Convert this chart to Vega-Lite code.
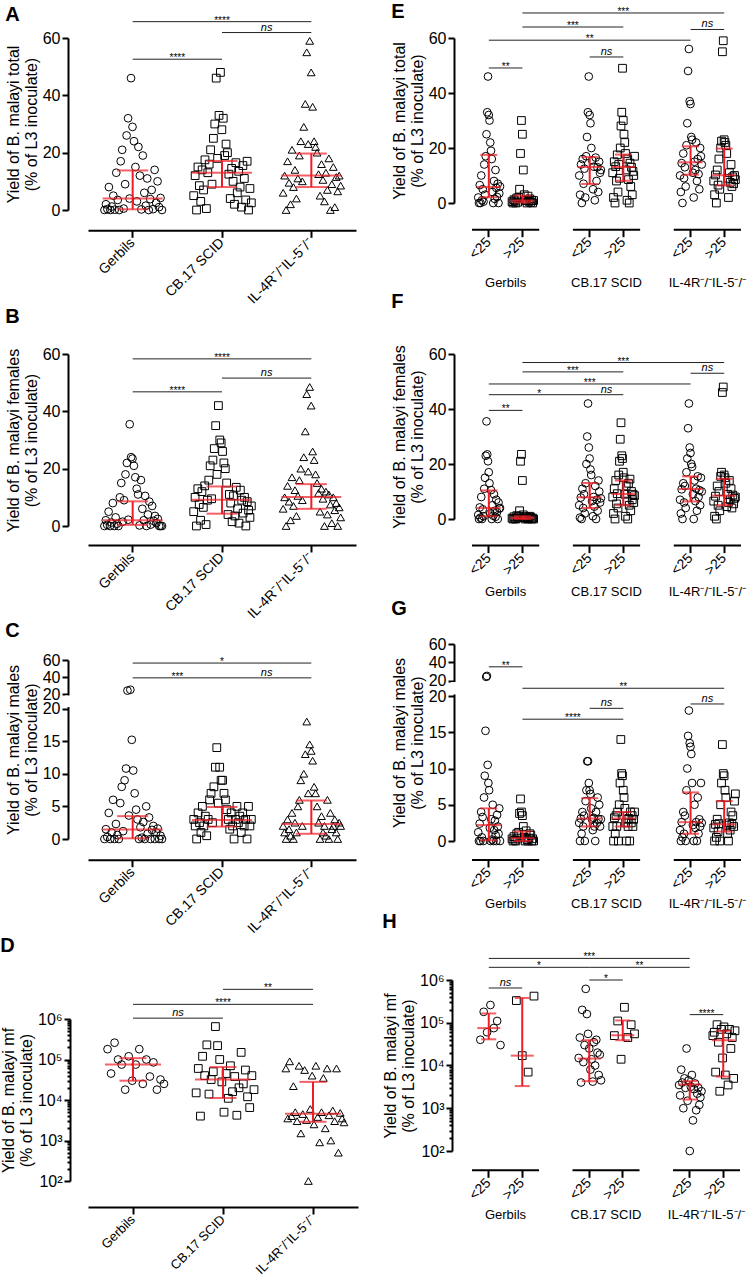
{
"$schema":"https://vega.github.io/schema/vega-lite/v6.json",
"padding":{"left":0,"top":1,"right":0,"bottom":0},
"background":"white",
"datasets":{
"pA":[{"g":"G","v":0},{"g":"G","v":2},{"g":"G","v":0.3},{"g":"G","v":8},{"g":"G","v":0},{"g":"G","v":1.2},{"g":"G","v":5},{"g":"G","v":0.1},{"g":"G","v":13},{"g":"G","v":3.5},{"g":"G","v":0},{"g":"G","v":17},{"g":"G","v":21},{"g":"G","v":0.5},{"g":"G","v":9},{"g":"G","v":26},{"g":"G","v":32},{"g":"G","v":4},{"g":"G","v":46},{"g":"G","v":29},{"g":"G","v":24},{"g":"G","v":15},{"g":"G","v":3},{"g":"G","v":22},{"g":"G","v":12},{"g":"G","v":0.2},{"g":"G","v":19},{"g":"G","v":6},{"g":"G","v":1.5},{"g":"G","v":11},{"g":"G","v":0},{"g":"G","v":3.8},{"g":"G","v":7},{"g":"G","v":0.3},{"g":"G","v":14},{"g":"G","v":2.5},{"g":"G","v":10},{"g":"G","v":1},{"g":"G","v":4.2},{"g":"G","v":0},
{"g":"C","v":5},{"g":"C","v":12},{"g":"C","v":0},{"g":"C","v":15},{"g":"C","v":8.5},{"g":"C","v":3},{"g":"C","v":14},{"g":"C","v":7},{"g":"C","v":17.5},{"g":"C","v":0.5},{"g":"C","v":13},{"g":"C","v":16},{"g":"C","v":21},{"g":"C","v":9},{"g":"C","v":25},{"g":"C","v":30},{"g":"C","v":46},{"g":"C","v":18},{"g":"C","v":33},{"g":"C","v":48},{"g":"C","v":28},{"g":"C","v":32},{"g":"C","v":19},{"g":"C","v":23},{"g":"C","v":20},{"g":"C","v":12.5},{"g":"C","v":4},{"g":"C","v":14.5},{"g":"C","v":10},{"g":"C","v":2},{"g":"C","v":16.5},{"g":"C","v":6},{"g":"C","v":13.5},{"g":"C","v":8},{"g":"C","v":1},{"g":"C","v":15.5},{"g":"C","v":11},{"g":"C","v":3.5},{"g":"C","v":17},{"g":"C","v":0},{"g":"C","v":7.5},{"g":"C","v":2.5},
{"g":"I","v":6},{"g":"I","v":12},{"g":"I","v":0},{"g":"I","v":17},{"g":"I","v":9.5},{"g":"I","v":2},{"g":"I","v":21},{"g":"I","v":8},{"g":"I","v":14},{"g":"I","v":4},{"g":"I","v":11},{"g":"I","v":19},{"g":"I","v":24},{"g":"I","v":10},{"g":"I","v":29},{"g":"I","v":37},{"g":"I","v":55},{"g":"I","v":23},{"g":"I","v":59},{"g":"I","v":48},{"g":"I","v":36},{"g":"I","v":24},{"g":"I","v":22},{"g":"I","v":20},{"g":"I","v":12.5},{"g":"I","v":5},{"g":"I","v":16},{"g":"I","v":10.5},{"g":"I","v":3},{"g":"I","v":13},{"g":"I","v":7},{"g":"I","v":18},{"g":"I","v":0},{"g":"I","v":9},{"g":"I","v":15},{"g":"I","v":1},{"g":"I","v":11.5},{"g":"I","v":6.5},{"g":"I","v":12},{"g":"I","v":8.5}],
"pB":[{"g":"G","v":0},{"g":"G","v":2},{"g":"G","v":0.4},{"g":"G","v":5},{"g":"G","v":0},{"g":"G","v":1.2},{"g":"G","v":8},{"g":"G","v":0},{"g":"G","v":3},{"g":"G","v":0.8},{"g":"G","v":0},{"g":"G","v":10},{"g":"G","v":15},{"g":"G","v":1.5},{"g":"G","v":9},{"g":"G","v":18},{"g":"G","v":22},{"g":"G","v":2.2},{"g":"G","v":35.5},{"g":"G","v":24},{"g":"G","v":23.5},{"g":"G","v":21},{"g":"G","v":17},{"g":"G","v":13},{"g":"G","v":11},{"g":"G","v":0.2},{"g":"G","v":16},{"g":"G","v":6},{"g":"G","v":2},{"g":"G","v":10.5},{"g":"G","v":0},{"g":"G","v":4},{"g":"G","v":8.5},{"g":"G","v":0.5},{"g":"G","v":7},{"g":"G","v":1.8},{"g":"G","v":3.5},{"g":"G","v":1},{"g":"G","v":2.5},{"g":"G","v":0},{"g":"G","v":0},{"g":"G","v":0},
{"g":"C","v":5},{"g":"C","v":10},{"g":"C","v":0},{"g":"C","v":13},{"g":"C","v":7.5},{"g":"C","v":2},{"g":"C","v":12},{"g":"C","v":6.5},{"g":"C","v":14},{"g":"C","v":0.5},{"g":"C","v":9},{"g":"C","v":16},{"g":"C","v":21},{"g":"C","v":9.5},{"g":"C","v":23},{"g":"C","v":27},{"g":"C","v":35},{"g":"C","v":18},{"g":"C","v":42},{"g":"C","v":30},{"g":"C","v":29},{"g":"C","v":26},{"g":"C","v":22},{"g":"C","v":20},{"g":"C","v":15},{"g":"C","v":4},{"g":"C","v":11},{"g":"C","v":8},{"g":"C","v":1.5},{"g":"C","v":10.5},{"g":"C","v":3.5},{"g":"C","v":13.5},{"g":"C","v":6},{"g":"C","v":1},{"g":"C","v":12.5},{"g":"C","v":9},{"g":"C","v":4.5},{"g":"C","v":10},{"g":"C","v":0},{"g":"C","v":8.5},{"g":"C","v":5.5},{"g":"C","v":3},{"g":"C","v":7},
{"g":"I","v":6},{"g":"I","v":10},{"g":"I","v":0},{"g":"I","v":14},{"g":"I","v":8.5},{"g":"I","v":2},{"g":"I","v":17},{"g":"I","v":7},{"g":"I","v":12.5},{"g":"I","v":3.5},{"g":"I","v":10.5},{"g":"I","v":16},{"g":"I","v":20},{"g":"I","v":9},{"g":"I","v":24},{"g":"I","v":33},{"g":"I","v":46},{"g":"I","v":19},{"g":"I","v":48.5},{"g":"I","v":42},{"g":"I","v":26},{"g":"I","v":23},{"g":"I","v":18},{"g":"I","v":15},{"g":"I","v":11.5},{"g":"I","v":5},{"g":"I","v":13},{"g":"I","v":9.5},{"g":"I","v":0},{"g":"I","v":12},{"g":"I","v":4},{"g":"I","v":11},{"g":"I","v":7.5},{"g":"I","v":1},{"g":"I","v":10},{"g":"I","v":5.5},{"g":"I","v":8},{"g":"I","v":0},{"g":"I","v":6.5},{"g":"I","v":3}],
"pC":[{"g":"G","v":0},{"g":"G","v":1.5},{"g":"G","v":0.3},{"g":"G","v":4},{"g":"G","v":0},{"g":"G","v":1},{"g":"G","v":6},{"g":"G","v":0},{"g":"G","v":2.3},{"g":"G","v":0.6},{"g":"G","v":0},{"g":"G","v":5.5},{"g":"G","v":8},{"g":"G","v":1.2},{"g":"G","v":9},{"g":"G","v":10.8},{"g":"G","v":24},{"g":"G","v":3.6},{"g":"G","v":25},{"g":"G","v":15.2},{"g":"G","v":10.5},{"g":"G","v":7},{"g":"G","v":4.5},{"g":"G","v":3},{"g":"G","v":0},{"g":"G","v":1.8},{"g":"G","v":0.2},{"g":"G","v":2.6},{"g":"G","v":0},{"g":"G","v":5},{"g":"G","v":0.8},{"g":"G","v":3.3},{"g":"G","v":0},{"g":"G","v":1.4},{"g":"G","v":2},{"g":"G","v":0},{"g":"G","v":1},{"g":"G","v":1.6},{"g":"G","v":0},{"g":"G","v":0.5},{"g":"G","v":0},
{"g":"C","v":3},{"g":"C","v":2},{"g":"C","v":0},{"g":"C","v":4},{"g":"C","v":2.5},{"g":"C","v":1},{"g":"C","v":5},{"g":"C","v":2},{"g":"C","v":3.5},{"g":"C","v":0.5},{"g":"C","v":3},{"g":"C","v":6},{"g":"C","v":7},{"g":"C","v":2.5},{"g":"C","v":8},{"g":"C","v":11},{"g":"C","v":14},{"g":"C","v":5.5},{"g":"C","v":11},{"g":"C","v":9},{"g":"C","v":9},{"g":"C","v":7},{"g":"C","v":6},{"g":"C","v":4.5},{"g":"C","v":3},{"g":"C","v":1.5},{"g":"C","v":4},{"g":"C","v":2},{"g":"C","v":0},{"g":"C","v":3},{"g":"C","v":5},{"g":"C","v":2.5},{"g":"C","v":3.5},{"g":"C","v":1},{"g":"C","v":4},{"g":"C","v":2},{"g":"C","v":3},{"g":"C","v":0},{"g":"C","v":5},{"g":"C","v":2},{"g":"C","v":3},
{"g":"I","v":2},{"g":"I","v":1},{"g":"I","v":0},{"g":"I","v":3},{"g":"I","v":1.5},{"g":"I","v":0.5},{"g":"I","v":4},{"g":"I","v":0},{"g":"I","v":2.5},{"g":"I","v":1},{"g":"I","v":5},{"g":"I","v":6},{"g":"I","v":9},{"g":"I","v":2},{"g":"I","v":10},{"g":"I","v":13},{"g":"I","v":18},{"g":"I","v":7},{"g":"I","v":14.5},{"g":"I","v":13.5},{"g":"I","v":12},{"g":"I","v":8},{"g":"I","v":7},{"g":"I","v":5},{"g":"I","v":2.5},{"g":"I","v":0},{"g":"I","v":3.5},{"g":"I","v":1},{"g":"I","v":2},{"g":"I","v":0.5},{"g":"I","v":6},{"g":"I","v":0},{"g":"I","v":4},{"g":"I","v":1.5},{"g":"I","v":2},{"g":"I","v":3},{"g":"I","v":1},{"g":"I","v":0},{"g":"I","v":2.5},{"g":"I","v":2}],
"pD":[{"g":"G","v":180000},{"g":"G","v":45000},{"g":"G","v":260000},{"g":"G","v":100000},{"g":"G","v":75000},{"g":"G","v":18000},{"g":"G","v":120000},{"g":"G","v":30000},{"g":"G","v":75000},{"g":"G","v":180000},{"g":"G","v":25000},{"g":"G","v":100000},{"g":"G","v":38000},{"g":"G","v":85000},{"g":"G","v":18000},{"g":"G","v":32000},{"g":"G","v":25000},
{"g":"C","v":15000},{"g":"C","v":60000},{"g":"C","v":4000},{"g":"C","v":120000},{"g":"C","v":40000},{"g":"C","v":230000},{"g":"C","v":14000},{"g":"C","v":32000},{"g":"C","v":50000},{"g":"C","v":650000},{"g":"C","v":220000},{"g":"C","v":100000},{"g":"C","v":28000},{"g":"C","v":5000},{"g":"C","v":45000},{"g":"C","v":11000},{"g":"C","v":70000},{"g":"C","v":16000},{"g":"C","v":38000},{"g":"C","v":4200},{"g":"C","v":20000},{"g":"C","v":150000},{"g":"C","v":25000},{"g":"C","v":55000},{"g":"C","v":12000},{"g":"C","v":6500},{"g":"C","v":40000},{"g":"C","v":18000},
{"g":"I","v":60000},{"g":"I","v":3500},{"g":"I","v":90000},{"g":"I","v":4000},{"g":"I","v":22000},{"g":"I","v":5000},{"g":"I","v":3000},{"g":"I","v":70000},{"g":"I","v":1500},{"g":"I","v":4500},{"g":"I","v":55000},{"g":"I","v":3200},{"g":"I","v":100},{"g":"I","v":6000},{"g":"I","v":40000},{"g":"I","v":2500},{"g":"I","v":70000},{"g":"I","v":3800},{"g":"I","v":900},{"g":"I","v":5000},{"g":"I","v":35000},{"g":"I","v":2000},{"g":"I","v":60000},{"g":"I","v":4200},{"g":"I","v":1000},{"g":"I","v":5500},{"g":"I","v":3000},{"g":"I","v":60000},{"g":"I","v":500},{"g":"I","v":4800},{"g":"I","v":3500},{"g":"I","v":2800}],
"pE":[{"g":"G<","v":2},{"g":"G<","v":0},{"g":"G<","v":6.5},{"g":"G<","v":0},{"g":"G<","v":10},{"g":"G<","v":1},{"g":"G<","v":5},{"g":"G<","v":0.5},{"g":"G<","v":14},{"g":"G<","v":3},{"g":"G<","v":17},{"g":"G<","v":25},{"g":"G<","v":33},{"g":"G<","v":46},{"g":"G<","v":32},{"g":"G<","v":30},{"g":"G<","v":22},{"g":"G<","v":19},{"g":"G<","v":16},{"g":"G<","v":4},{"g":"G<","v":0},{"g":"G<","v":8},{"g":"G<","v":1.5},{"g":"G<","v":12},{"g":"G<","v":5.5},{"g":"G<","v":2.2},{"g":"G<","v":7},{"g":"G<","v":0},{"g":"G<","v":3.5},{"g":"G<","v":6},
{"g":"G>","v":0.5},{"g":"G>","v":0},{"g":"G>","v":1.2},{"g":"G>","v":0.8},{"g":"G>","v":0},{"g":"G>","v":1.8},{"g":"G>","v":0.3},{"g":"G>","v":2},{"g":"G>","v":5},{"g":"G>","v":18},{"g":"G>","v":30},{"g":"G>","v":25},{"g":"G>","v":12},{"g":"G>","v":3},{"g":"G>","v":1},{"g":"G>","v":0.9},{"g":"G>","v":0},{"g":"G>","v":2.5},{"g":"G>","v":0.6},{"g":"G>","v":1.5},{"g":"G>","v":0.2},{"g":"G>","v":1},{"g":"G>","v":0},{"g":"G>","v":0.9},
{"g":"C<","v":10},{"g":"C<","v":3},{"g":"C<","v":14},{"g":"C<","v":0},{"g":"C<","v":16},{"g":"C<","v":7},{"g":"C<","v":12.5},{"g":"C<","v":2},{"g":"C<","v":17},{"g":"C<","v":24},{"g":"C<","v":33},{"g":"C<","v":46},{"g":"C<","v":32},{"g":"C<","v":29},{"g":"C<","v":20},{"g":"C<","v":15.5},{"g":"C<","v":5},{"g":"C<","v":13.2},{"g":"C<","v":1},{"g":"C<","v":16.5},{"g":"C<","v":8},{"g":"C<","v":13},{"g":"C<","v":4},{"g":"C<","v":15},{"g":"C<","v":11},{"g":"C<","v":12},
{"g":"C>","v":11},{"g":"C>","v":2},{"g":"C>","v":15},{"g":"C>","v":0},{"g":"C>","v":13.2},{"g":"C>","v":8},{"g":"C>","v":17.5},{"g":"C>","v":4},{"g":"C>","v":14},{"g":"C>","v":9},{"g":"C>","v":20},{"g":"C>","v":28},{"g":"C>","v":33},{"g":"C>","v":49},{"g":"C>","v":30},{"g":"C>","v":25},{"g":"C>","v":22},{"g":"C>","v":18},{"g":"C>","v":12},{"g":"C>","v":1},{"g":"C>","v":16},{"g":"C>","v":8.5},{"g":"C>","v":0},{"g":"C>","v":14.5},{"g":"C>","v":6},{"g":"C>","v":13},{"g":"C>","v":3},{"g":"C>","v":11.5},{"g":"C>","v":10},{"g":"C>","v":17},
{"g":"I<","v":10},{"g":"I<","v":4},{"g":"I<","v":14.5},{"g":"I<","v":0},{"g":"I<","v":18},{"g":"I<","v":9},{"g":"I<","v":13},{"g":"I<","v":6},{"g":"I<","v":21},{"g":"I<","v":29},{"g":"I<","v":48},{"g":"I<","v":56},{"g":"I<","v":37},{"g":"I<","v":36},{"g":"I<","v":24},{"g":"I<","v":23},{"g":"I<","v":11},{"g":"I<","v":2},{"g":"I<","v":15},{"g":"I<","v":12},{"g":"I<","v":22},{"g":"I<","v":8},{"g":"I<","v":16},{"g":"I<","v":10.5},{"g":"I<","v":5},{"g":"I<","v":20},{"g":"I<","v":17},{"g":"I<","v":14},
{"g":"I>","v":8},{"g":"I>","v":3},{"g":"I>","v":10.2},{"g":"I>","v":0},{"g":"I>","v":12},{"g":"I>","v":6.5},{"g":"I>","v":16},{"g":"I>","v":5},{"g":"I>","v":20},{"g":"I>","v":22.5},{"g":"I>","v":55},{"g":"I>","v":59},{"g":"I>","v":23},{"g":"I>","v":22},{"g":"I>","v":21},{"g":"I>","v":18},{"g":"I>","v":9},{"g":"I>","v":2},{"g":"I>","v":11},{"g":"I>","v":7.5},{"g":"I>","v":14},{"g":"I>","v":6},{"g":"I>","v":9.5},{"g":"I>","v":7},{"g":"I>","v":10},{"g":"I>","v":8.5}],
"pF":[{"g":"G<","v":1.5},{"g":"G<","v":0},{"g":"G<","v":4.2},{"g":"G<","v":0.5},{"g":"G<","v":8},{"g":"G<","v":0},{"g":"G<","v":3.5},{"g":"G<","v":1},{"g":"G<","v":11},{"g":"G<","v":15},{"g":"G<","v":23},{"g":"G<","v":35.5},{"g":"G<","v":23.5},{"g":"G<","v":21},{"g":"G<","v":17},{"g":"G<","v":13},{"g":"G<","v":2},{"g":"G<","v":10.5},{"g":"G<","v":0},{"g":"G<","v":5},{"g":"G<","v":1.2},{"g":"G<","v":9},{"g":"G<","v":3},{"g":"G<","v":0.8},{"g":"G<","v":7},{"g":"G<","v":2.5},{"g":"G<","v":0},{"g":"G<","v":6},{"g":"G<","v":3.8},{"g":"G<","v":4},
{"g":"G>","v":0.3},{"g":"G>","v":0},{"g":"G>","v":0.8},{"g":"G>","v":0.1},{"g":"G>","v":0},{"g":"G>","v":1.2},{"g":"G>","v":0.4},{"g":"G>","v":1},{"g":"G>","v":3},{"g":"G>","v":21},{"g":"G>","v":23.5},{"g":"G>","v":14},{"g":"G>","v":1.5},{"g":"G>","v":0.5},{"g":"G>","v":0},{"g":"G>","v":0.9},{"g":"G>","v":0.2},{"g":"G>","v":0},{"g":"G>","v":0.4},{"g":"G>","v":1},{"g":"G>","v":0.6},{"g":"G>","v":0},{"g":"G>","v":0.3},{"g":"G>","v":0},
{"g":"C<","v":5},{"g":"C<","v":0.5},{"g":"C<","v":7.8},{"g":"C<","v":0},{"g":"C<","v":11},{"g":"C<","v":4},{"g":"C<","v":9},{"g":"C<","v":2},{"g":"C<","v":13},{"g":"C<","v":20},{"g":"C<","v":30},{"g":"C<","v":42},{"g":"C<","v":26},{"g":"C<","v":22},{"g":"C<","v":18},{"g":"C<","v":16},{"g":"C<","v":6.5},{"g":"C<","v":1},{"g":"C<","v":8},{"g":"C<","v":4.5},{"g":"C<","v":12},{"g":"C<","v":0},{"g":"C<","v":7},{"g":"C<","v":3},{"g":"C<","v":14},{"g":"C<","v":10},{"g":"C<","v":6},{"g":"C<","v":7.5},
{"g":"C>","v":8},{"g":"C>","v":2},{"g":"C>","v":11},{"g":"C>","v":0},{"g":"C>","v":14},{"g":"C>","v":5.5},{"g":"C>","v":9.2},{"g":"C>","v":4},{"g":"C>","v":16},{"g":"C>","v":21},{"g":"C>","v":29},{"g":"C>","v":35},{"g":"C>","v":23},{"g":"C>","v":22},{"g":"C>","v":17},{"g":"C>","v":15},{"g":"C>","v":9},{"g":"C>","v":1},{"g":"C>","v":12},{"g":"C>","v":6.5},{"g":"C>","v":0},{"g":"C>","v":13},{"g":"C>","v":5},{"g":"C>","v":14.5},{"g":"C>","v":3},{"g":"C>","v":10},{"g":"C>","v":7},{"g":"C>","v":9},{"g":"C>","v":6},{"g":"C>","v":8.5},
{"g":"I<","v":7},{"g":"I<","v":2},{"g":"I<","v":10.8},{"g":"I<","v":0},{"g":"I<","v":13},{"g":"I<","v":6},{"g":"I<","v":12},{"g":"I<","v":4},{"g":"I<","v":17},{"g":"I<","v":22},{"g":"I<","v":33},{"g":"I<","v":42},{"g":"I<","v":26},{"g":"I<","v":24},{"g":"I<","v":20},{"g":"I<","v":19},{"g":"I<","v":9},{"g":"I<","v":0},{"g":"I<","v":14},{"g":"I<","v":6.5},{"g":"I<","v":11},{"g":"I<","v":3},{"g":"I<","v":15.5},{"g":"I<","v":8},{"g":"I<","v":10.5},{"g":"I<","v":5},{"g":"I<","v":15},{"g":"I<","v":10},
{"g":"I>","v":6.5},{"g":"I>","v":1},{"g":"I>","v":8.3},{"g":"I>","v":0},{"g":"I>","v":12},{"g":"I>","v":5},{"g":"I>","v":10},{"g":"I>","v":3},{"g":"I>","v":15.5},{"g":"I>","v":17},{"g":"I>","v":46},{"g":"I>","v":48},{"g":"I>","v":16},{"g":"I>","v":15},{"g":"I>","v":13},{"g":"I>","v":4.5},{"g":"I>","v":9},{"g":"I>","v":6},{"g":"I>","v":14},{"g":"I>","v":7},{"g":"I>","v":11},{"g":"I>","v":4},{"g":"I>","v":8.7},{"g":"I>","v":5.5},{"g":"I>","v":7.5},{"g":"I>","v":8}],
"pG":[{"g":"G<","v":1.2},{"g":"G<","v":0},{"g":"G<","v":2.4},{"g":"G<","v":0},{"g":"G<","v":4},{"g":"G<","v":0.5},{"g":"G<","v":3.3},{"g":"G<","v":0},{"g":"G<","v":6},{"g":"G<","v":9},{"g":"G<","v":15.2},{"g":"G<","v":24},{"g":"G<","v":25},{"g":"G<","v":10.5},{"g":"G<","v":8},{"g":"G<","v":7},{"g":"G<","v":1.8},{"g":"G<","v":0},{"g":"G<","v":3},{"g":"G<","v":0.2},{"g":"G<","v":5},{"g":"G<","v":0},{"g":"G<","v":1.5},{"g":"G<","v":2.8},{"g":"G<","v":0.8},{"g":"G<","v":0},{"g":"G<","v":3.6},{"g":"G<","v":2},{"g":"G<","v":1},{"g":"G<","v":4.5},{"g":"G<","v":0},
{"g":"G>","v":0.3},{"g":"G>","v":0},{"g":"G>","v":0.6},{"g":"G>","v":0.1},{"g":"G>","v":0},{"g":"G>","v":1},{"g":"G>","v":0.4},{"g":"G>","v":1.2},{"g":"G>","v":3.8},{"g":"G>","v":5.8},{"g":"G>","v":4},{"g":"G>","v":3.5},{"g":"G>","v":2},{"g":"G>","v":0.5},{"g":"G>","v":0},{"g":"G>","v":1.4},{"g":"G>","v":0.2},{"g":"G>","v":0},{"g":"G>","v":0.4},{"g":"G>","v":1},{"g":"G>","v":0.8},{"g":"G>","v":0},{"g":"G>","v":0.3},{"g":"G>","v":0},
{"g":"C<","v":2.5},{"g":"C<","v":0},{"g":"C<","v":3.1},{"g":"C<","v":1},{"g":"C<","v":4},{"g":"C<","v":2},{"g":"C<","v":3.5},{"g":"C<","v":0},{"g":"C<","v":5.5},{"g":"C<","v":7},{"g":"C<","v":11},{"g":"C<","v":11},{"g":"C<","v":8},{"g":"C<","v":7},{"g":"C<","v":6.5},{"g":"C<","v":4.5},{"g":"C<","v":3},{"g":"C<","v":1.5},{"g":"C<","v":3.2},{"g":"C<","v":2},{"g":"C<","v":0},{"g":"C<","v":4},{"g":"C<","v":2.5},{"g":"C<","v":6},{"g":"C<","v":3},{"g":"C<","v":5},{"g":"C<","v":2},{"g":"C<","v":3},
{"g":"C>","v":2},{"g":"C>","v":0},{"g":"C>","v":3.2},{"g":"C>","v":1},{"g":"C>","v":3.5},{"g":"C>","v":2},{"g":"C>","v":4},{"g":"C>","v":0},{"g":"C>","v":5},{"g":"C>","v":8},{"g":"C>","v":14},{"g":"C>","v":9.3},{"g":"C>","v":9},{"g":"C>","v":7},{"g":"C>","v":6},{"g":"C>","v":4.5},{"g":"C>","v":2.5},{"g":"C>","v":0},{"g":"C>","v":3},{"g":"C>","v":2},{"g":"C>","v":3.1},{"g":"C>","v":0},{"g":"C>","v":4},{"g":"C>","v":2.5},{"g":"C>","v":3.5},{"g":"C>","v":2},{"g":"C>","v":3},{"g":"C>","v":4},
{"g":"I<","v":1.5},{"g":"I<","v":0},{"g":"I<","v":2.6},{"g":"I<","v":0.5},{"g":"I<","v":4},{"g":"I<","v":1},{"g":"I<","v":3.5},{"g":"I<","v":0},{"g":"I<","v":7},{"g":"I<","v":10},{"g":"I<","v":14.5},{"g":"I<","v":18},{"g":"I<","v":13.5},{"g":"I<","v":13},{"g":"I<","v":12},{"g":"I<","v":8},{"g":"I<","v":2.2},{"g":"I<","v":0},{"g":"I<","v":5},{"g":"I<","v":1.8},{"g":"I<","v":2.6},{"g":"I<","v":0},{"g":"I<","v":6},{"g":"I<","v":1},{"g":"I<","v":3},{"g":"I<","v":2},{"g":"I<","v":8},{"g":"I<","v":2.5},
{"g":"I>","v":1.8},{"g":"I>","v":0},{"g":"I>","v":2.3},{"g":"I>","v":0.5},{"g":"I>","v":3},{"g":"I>","v":1.3},{"g":"I>","v":2.4},{"g":"I>","v":0},{"g":"I>","v":5},{"g":"I>","v":8},{"g":"I>","v":13.3},{"g":"I>","v":9.3},{"g":"I>","v":9},{"g":"I>","v":7},{"g":"I>","v":6},{"g":"I>","v":2.2},{"g":"I>","v":1},{"g":"I>","v":0},{"g":"I>","v":2.5},{"g":"I>","v":1.5},{"g":"I>","v":4},{"g":"I>","v":2.3},{"g":"I>","v":3.5},{"g":"I>","v":2},{"g":"I>","v":5.5},{"g":"I>","v":6.5}],
"pH":[{"g":"G<","v":40000},{"g":"G<","v":180000},{"g":"G<","v":60000},{"g":"G<","v":260000},{"g":"G<","v":75000},{"g":"G<","v":110000},{"g":"G<","v":30000},
{"g":"G>","v":330000},{"g":"G>","v":17000},{"g":"G>","v":7000},{"g":"G>","v":420000},
{"g":"C<","v":15000},{"g":"C<","v":45000},{"g":"C<","v":4000},{"g":"C<","v":200000},{"g":"C<","v":12000},{"g":"C<","v":30000},{"g":"C<","v":620000},{"g":"C<","v":160000},{"g":"C<","v":55000},{"g":"C<","v":25000},{"g":"C<","v":8000},{"g":"C<","v":14000},{"g":"C<","v":4200},{"g":"C<","v":35000},{"g":"C<","v":10000},{"g":"C<","v":40000},{"g":"C<","v":20000},{"g":"C<","v":6000},{"g":"C<","v":18000},{"g":"C<","v":4500},
{"g":"C>","v":50000},{"g":"C>","v":110000},{"g":"C>","v":14000},{"g":"C>","v":230000},{"g":"C>","v":45000},{"g":"C>","v":90000},{"g":"C>","v":55000},
{"g":"I<","v":3500},{"g":"I<","v":2000},{"g":"I<","v":8000},{"g":"I<","v":4000},{"g":"I<","v":1000},{"g":"I<","v":5000},{"g":"I<","v":3000},{"g":"I<","v":25000},{"g":"I<","v":1500},{"g":"I<","v":4500},{"g":"I<","v":100},{"g":"I<","v":3200},{"g":"I<","v":6000},{"g":"I<","v":520},{"g":"I<","v":2800},{"g":"I<","v":3800},{"g":"I<","v":900},{"g":"I<","v":2200},{"g":"I<","v":3000},{"g":"I<","v":1200},{"g":"I<","v":1800},{"g":"I<","v":2500},
{"g":"I>","v":50000},{"g":"I>","v":60000},{"g":"I>","v":7000},{"g":"I>","v":90000},{"g":"I>","v":35000},{"g":"I>","v":2500},{"g":"I>","v":70000},{"g":"I>","v":15000},{"g":"I>","v":80000},{"g":"I>","v":6000},{"g":"I>","v":55000},{"g":"I>","v":3500},{"g":"I>","v":70000},{"g":"I>","v":25000},{"g":"I>","v":45000},{"g":"I>","v":5000},{"g":"I>","v":65000}],
"mA":[{"g":"G","med":4,"lo":0.25,"hi":13.8},{"g":"C","med":13,"lo":8,"hi":17.1},{"g":"I","med":12,"lo":8,"hi":19.7}],
"mB":[{"g":"G","med":2,"lo":0.4,"hi":8.6},{"g":"C","med":9.2,"lo":4.3,"hi":13.8},{"g":"I","med":10.1,"lo":6,"hi":14.6}],
"mC":[{"g":"G","med":1.45,"lo":0.1,"hi":3.5},{"g":"C","med":2.9,"lo":1.9,"hi":4.9},{"g":"I","med":2.3,"lo":0.8,"hi":5.9}],
"mD":[{"g":"G","med":75000,"lo":30000,"hi":108000},{"g":"C","med":32000,"lo":11200,"hi":65000},{"g":"I","med":4600,"lo":2900,"hi":28000}],
"mE":[{"g":"G<","med":5.8,"lo":2.1,"hi":17.5},{"g":"G>","med":0.9,"lo":0.2,"hi":2.7},{"g":"C<","med":13.1,"lo":6.9,"hi":16.7},{"g":"C>","med":13.1,"lo":8.1,"hi":17.6},{"g":"I<","med":14.8,"lo":10.3,"hi":20.6},{"g":"I>","med":10.1,"lo":6.4,"hi":19.8}],
"mF":[{"g":"G<","med":4,"lo":1,"hi":10.4},{"g":"G>","med":0.4,"lo":0,"hi":1},{"g":"C<","med":7.9,"lo":4,"hi":13.1},{"g":"C>","med":9.1,"lo":5,"hi":14},{"g":"I<","med":10.9,"lo":6.4,"hi":15.5},{"g":"I>","med":8.5,"lo":5,"hi":14.6}],
"mG":[{"g":"G<","med":2.2,"lo":0.1,"hi":4.5},{"g":"G>","med":0.4,"lo":0,"hi":1.3},{"g":"C<","med":3.1,"lo":2,"hi":5.9},{"g":"C>","med":3.1,"lo":2,"hi":4},{"g":"I<","med":2.6,"lo":1,"hi":6.7},{"g":"I>","med":2.3,"lo":1.3,"hi":5.5}],
"mH":[{"g":"G<","med":75000,"lo":41000,"hi":165000},{"g":"G>","med":17000,"lo":3300,"hi":380000},{"g":"C<","med":14500,"lo":4300,"hi":39000},{"g":"C>","med":51000,"lo":39000,"hi":113000},{"g":"I<","med":3600,"lo":1600,"hi":4300},{"g":"I>","med":39000,"lo":5500,"hi":65000}],
"bA":[{"a":"G","b":"I","y":65.7,"s":"****","m":"C","k":0},{"a":"C","b":"I","y":61.9,"s":"ns","m":"C","k":1},{"a":"G","b":"C","y":52.6,"s":"****","m":"G","k":1}],
"bB":[{"a":"G","b":"I","y":58.3,"s":"****","m":"C","k":0},{"a":"C","b":"I","y":51.6,"s":"ns","m":"C","k":1},{"a":"G","b":"C","y":46.8,"s":"****","m":"G","k":1}],
"bC":[{"a":"G","b":"I","y":56.4,"s":"*","m":"C","k":0},{"a":"G","b":"C","y":39,"s":"***","m":"G","k":1},{"a":"C","b":"I","y":39,"s":"ns","m":"C","k":1}],
"bD":[{"a":"C","b":"I","y":5400000,"s":"**","m":"C","k":1},{"a":"G","b":"I","y":2300000,"s":"****","m":"C","k":0},{"a":"G","b":"C","y":1050000,"s":"ns","m":"G","k":1}],
"bE":[{"a":"G>","b":"I>","y":69.1,"s":"***","m":"C>","k":0},{"a":"G>","b":"C>","y":64,"s":"***","m":"s1","k":1},{"a":"I<","b":"I>","y":63.1,"s":"ns","m":"I<","k":1},{"a":"G<","b":"I<","y":59.2,"s":"**","m":"C<","k":0},{"a":"C<","b":"C>","y":53.1,"s":"ns","m":"C<","k":1},{"a":"G<","b":"G>","y":49.1,"s":"**","m":"G<","k":1}],
"bF":[{"a":"G>","b":"I>","y":56.9,"s":"***","m":"C>","k":0},{"a":"G>","b":"C>","y":53.5,"s":"***","m":"s1","k":1},{"a":"I<","b":"I>","y":53,"s":"ns","m":"I<","k":1},{"a":"G<","b":"I<","y":49.1,"s":"***","m":"C<","k":0},{"a":"G<","b":"C<","y":45.2,"s":"*","m":"G>","k":1},{"a":"C<","b":"C>","y":45.2,"s":"ns","m":"C<","k":1},{"a":"G<","b":"G>","y":39.5,"s":"**","m":"G<","k":1}],
"bG":[{"a":"G<","b":"G>","y":35,"s":"**","m":"G<","k":1},{"a":"G>","b":"I>","y":20.005,"s":"**","m":"C>","k":0},{"a":"C<","b":"C>","y":18.3,"s":"ns","m":"C<","k":1},{"a":"G>","b":"C>","y":16.8,"s":"****","m":"s1","k":1},{"a":"I<","b":"I>","y":18.9,"s":"ns","m":"I<","k":1}],
"bH":[{"a":"G<","b":"I<","y":3200000,"s":"***","m":"C<","k":0},{"a":"G<","b":"C<","y":1980000,"s":"*","m":"G>","k":1},{"a":"C<","b":"I<","y":1980000,"s":"**","m":"C>","k":1},{"a":"G<","b":"G>","y":650000,"s":"ns","m":"G<","k":1},{"a":"C<","b":"C>","y":1000000,"s":"*","m":"C<","k":1},{"a":"I<","b":"I>","y":155000,"s":"****","m":"I<","k":1}],
"seg":[{"a":"G<","b":"G>","h":"Gerbils"},{"a":"C<","b":"C>","h":"CB.17 SCID"},{"a":"I<","b":"I>","h":"IL-4R⁻/⁻IL-5⁻/⁻"}]
},
"resolve":{"scale":{"shape":"independent","xOffset":"independent"}},
"hconcat":[
{"spacing":0,"resolve":{"scale":{"shape":"independent","xOffset":"independent"}},"vconcat":[
{"width":268,"height":172,"title":{"text":"A","offset":-9},"layer":[
{"data":{"name":"pA"},"transform":[{"window":[{"op":"row_number","as":"r"}],"groupby":["g"]},{"window":[{"op":"cume_dist","as":"j"}],"groupby":["g"],"sort":[{"field":"r"}]}],"mark":{"type":"point","filled":false,"color":"black","strokeWidth":1,"size":60,"opacity":1},"encoding":{"x":{"field":"g","type":"nominal","bandPosition":0,"scale":{"domain":["G","C","I"],"paddingInner":0,"paddingOuter":0},"axis":{"title":null,"offset":20.3,"labelExpr":"datum.value=='G'?'Gerbils':datum.value=='C'?'CB.17 SCID':'IL-4R⁻/⁻IL-5⁻/⁻'"}},"xOffset":{"field":"j","type":"quantitative","scale":{"domain":[0,1],"range":[15,74]}},"y":{"field":"v","type":"quantitative","scale":{"domain":[0,60],"nice":false},"axis":{"values":[0,20,40,60],"title":["Yield of B. malayi total","(% of L3 inoculate)"]}},"shape":{"field":"g","type":"nominal","scale":{"domain":["G","C","I"],"range":["circle","square","triangle-up"]},"legend":null}}},
{"data":{"name":"mA"},"mark":{"type":"rule","color":"#ee1c25","strokeWidth":2},"encoding":{"x":{"field":"g","type":"nominal","title":null},"y":{"field":"lo","type":"quantitative"},"y2":{"field":"hi"}}},
{"data":{"name":"mA"},"mark":{"type":"tick","color":"#ee1c25","orient":"horizontal","size":60,"thickness":2},"encoding":{"x":{"field":"g","type":"nominal","title":null},"y":{"field":"med","type":"quantitative"}}},
{"data":{"name":"mA"},"mark":{"type":"tick","color":"#ee1c25","orient":"horizontal","size":31,"thickness":2},"encoding":{"x":{"field":"g","type":"nominal","title":null},"y":{"field":"lo","type":"quantitative"}}},
{"data":{"name":"mA"},"mark":{"type":"tick","color":"#ee1c25","orient":"horizontal","size":31,"thickness":2},"encoding":{"x":{"field":"g","type":"nominal","title":null},"y":{"field":"hi","type":"quantitative"}}},
{"data":{"name":"bA"},"mark":{"type":"rule","color":"#222","strokeWidth":1},"encoding":{"x":{"field":"a","type":"nominal","bandPosition":0.5,"title":null},"x2":{"field":"b","bandPosition":0.5},"y":{"field":"y","type":"quantitative"}}},
{"data":{"name":"bA"},"transform":[{"filter":"datum.k==0&&datum.s!='ns'"}],"mark":{"type":"text","fontSize":10,"dy":2,"baseline":"alphabetic","color":"black"},"encoding":{"x":{"field":"m","type":"nominal","bandPosition":0.5,"title":null},"y":{"field":"y","type":"quantitative"},"text":{"field":"s"}}},
{"data":{"name":"bA"},"transform":[{"filter":"datum.k==1&&datum.s!='ns'"}],"mark":{"type":"text","fontSize":10,"dy":2,"baseline":"alphabetic","color":"black"},"encoding":{"x":{"field":"m","type":"nominal","bandPosition":1,"title":null},"y":{"field":"y","type":"quantitative"},"text":{"field":"s"}}},
{"data":{"name":"bA"},"transform":[{"filter":"datum.k==0&&datum.s=='ns'"}],"mark":{"type":"text","fontSize":11,"fontStyle":"italic","dy":-2,"baseline":"alphabetic","color":"black"},"encoding":{"x":{"field":"m","type":"nominal","bandPosition":0.5,"title":null},"y":{"field":"y","type":"quantitative"},"text":{"field":"s"}}},
{"data":{"name":"bA"},"transform":[{"filter":"datum.k==1&&datum.s=='ns'"}],"mark":{"type":"text","fontSize":11,"fontStyle":"italic","dy":-2,"baseline":"alphabetic","color":"black"},"encoding":{"x":{"field":"m","type":"nominal","bandPosition":1,"title":null},"y":{"field":"y","type":"quantitative"},"text":{"field":"s"}}}
]},
{"width":268,"height":172,"title":{"text":"B","offset":18.7},"layer":[
{"data":{"name":"pB"},"transform":[{"window":[{"op":"row_number","as":"r"}],"groupby":["g"]},{"window":[{"op":"cume_dist","as":"j"}],"groupby":["g"],"sort":[{"field":"r"}]}],"mark":{"type":"point","filled":false,"color":"black","strokeWidth":1,"size":60,"opacity":1},"encoding":{"x":{"field":"g","type":"nominal","bandPosition":0,"scale":{"domain":["G","C","I"],"paddingInner":0,"paddingOuter":0},"axis":{"title":null,"offset":19,"labelExpr":"datum.value=='G'?'Gerbils':datum.value=='C'?'CB.17 SCID':'IL-4R⁻/⁻IL-5⁻/⁻'"}},"xOffset":{"field":"j","type":"quantitative","scale":{"domain":[0,1],"range":[15,74]}},"y":{"field":"v","type":"quantitative","scale":{"domain":[0,60],"nice":false},"axis":{"values":[0,20,40,60],"title":["Yield of B. malayi females","(% of L3 inoculate)"]}},"shape":{"field":"g","type":"nominal","scale":{"domain":["G","C","I"],"range":["circle","square","triangle-up"]},"legend":null}}},
{"data":{"name":"mB"},"mark":{"type":"rule","color":"#ee1c25","strokeWidth":2},"encoding":{"x":{"field":"g","type":"nominal","title":null},"y":{"field":"lo","type":"quantitative"},"y2":{"field":"hi"}}},
{"data":{"name":"mB"},"mark":{"type":"tick","color":"#ee1c25","orient":"horizontal","size":60,"thickness":2},"encoding":{"x":{"field":"g","type":"nominal","title":null},"y":{"field":"med","type":"quantitative"}}},
{"data":{"name":"mB"},"mark":{"type":"tick","color":"#ee1c25","orient":"horizontal","size":31,"thickness":2},"encoding":{"x":{"field":"g","type":"nominal","title":null},"y":{"field":"lo","type":"quantitative"}}},
{"data":{"name":"mB"},"mark":{"type":"tick","color":"#ee1c25","orient":"horizontal","size":31,"thickness":2},"encoding":{"x":{"field":"g","type":"nominal","title":null},"y":{"field":"hi","type":"quantitative"}}},
{"data":{"name":"bB"},"mark":{"type":"rule","color":"#222","strokeWidth":1},"encoding":{"x":{"field":"a","type":"nominal","bandPosition":0.5,"title":null},"x2":{"field":"b","bandPosition":0.5},"y":{"field":"y","type":"quantitative"}}},
{"data":{"name":"bB"},"transform":[{"filter":"datum.k==0&&datum.s!='ns'"}],"mark":{"type":"text","fontSize":10,"dy":2,"baseline":"alphabetic","color":"black"},"encoding":{"x":{"field":"m","type":"nominal","bandPosition":0.5,"title":null},"y":{"field":"y","type":"quantitative"},"text":{"field":"s"}}},
{"data":{"name":"bB"},"transform":[{"filter":"datum.k==1&&datum.s!='ns'"}],"mark":{"type":"text","fontSize":10,"dy":2,"baseline":"alphabetic","color":"black"},"encoding":{"x":{"field":"m","type":"nominal","bandPosition":1,"title":null},"y":{"field":"y","type":"quantitative"},"text":{"field":"s"}}},
{"data":{"name":"bB"},"transform":[{"filter":"datum.k==0&&datum.s=='ns'"}],"mark":{"type":"text","fontSize":11,"fontStyle":"italic","dy":-2,"baseline":"alphabetic","color":"black"},"encoding":{"x":{"field":"m","type":"nominal","bandPosition":0.5,"title":null},"y":{"field":"y","type":"quantitative"},"text":{"field":"s"}}},
{"data":{"name":"bB"},"transform":[{"filter":"datum.k==1&&datum.s=='ns'"}],"mark":{"type":"text","fontSize":11,"fontStyle":"italic","dy":-2,"baseline":"alphabetic","color":"black"},"encoding":{"x":{"field":"m","type":"nominal","bandPosition":1,"title":null},"y":{"field":"y","type":"quantitative"},"text":{"field":"s"}}}
]},
{"width":268,"height":179,"title":{"text":"C","offset":11},"layer":[
{"data":{"name":"pC"},"transform":[{"window":[{"op":"row_number","as":"r"}],"groupby":["g"]},{"window":[{"op":"cume_dist","as":"j"}],"groupby":["g"],"sort":[{"field":"r"}]}],"mark":{"type":"point","filled":false,"color":"black","strokeWidth":1,"size":60,"opacity":1},"encoding":{"x":{"field":"g","type":"nominal","bandPosition":0,"scale":{"domain":["G","C","I"],"paddingInner":0,"paddingOuter":0},"axis":{"title":null,"offset":20.7,"labelExpr":"datum.value=='G'?'Gerbils':datum.value=='C'?'CB.17 SCID':'IL-4R⁻/⁻IL-5⁻/⁻'"}},"xOffset":{"field":"j","type":"quantitative","scale":{"domain":[0,1],"range":[15,74]}},"y":{"field":"v","type":"quantitative","scale":{"domain":[0,20,20.01,60],"range":[179,48.5,34,0],"nice":false,"zero":false},"axis":{"values":[0,5,10,15,20,20.01,40,60],"tickCount":30,"format":".0f","title":["Yield of B. malayi males","(% of L3 inoculate)"]}},"shape":{"field":"g","type":"nominal","scale":{"domain":["G","C","I"],"range":["circle","square","triangle-up"]},"legend":null}}},
{"data":{"values":[{}]},"mark":{"type":"rule","color":"white","strokeWidth":6},"encoding":{"x":{"datum":"G","type":"nominal","bandPosition":-0.2239},"y":{"datum":20.001,"type":"quantitative"},"y2":{"datum":20.009}}},
{"data":{"name":"mC"},"mark":{"type":"rule","color":"#ee1c25","strokeWidth":2},"encoding":{"x":{"field":"g","type":"nominal","title":null},"y":{"field":"lo","type":"quantitative"},"y2":{"field":"hi"}}},
{"data":{"name":"mC"},"mark":{"type":"tick","color":"#ee1c25","orient":"horizontal","size":60,"thickness":2},"encoding":{"x":{"field":"g","type":"nominal","title":null},"y":{"field":"med","type":"quantitative"}}},
{"data":{"name":"mC"},"mark":{"type":"tick","color":"#ee1c25","orient":"horizontal","size":31,"thickness":2},"encoding":{"x":{"field":"g","type":"nominal","title":null},"y":{"field":"lo","type":"quantitative"}}},
{"data":{"name":"mC"},"mark":{"type":"tick","color":"#ee1c25","orient":"horizontal","size":31,"thickness":2},"encoding":{"x":{"field":"g","type":"nominal","title":null},"y":{"field":"hi","type":"quantitative"}}},
{"data":{"name":"bC"},"mark":{"type":"rule","color":"#222","strokeWidth":1},"encoding":{"x":{"field":"a","type":"nominal","bandPosition":0.5,"title":null},"x2":{"field":"b","bandPosition":0.5},"y":{"field":"y","type":"quantitative"}}},
{"data":{"name":"bC"},"transform":[{"filter":"datum.k==0&&datum.s!='ns'"}],"mark":{"type":"text","fontSize":10,"dy":2,"baseline":"alphabetic","color":"black"},"encoding":{"x":{"field":"m","type":"nominal","bandPosition":0.5,"title":null},"y":{"field":"y","type":"quantitative"},"text":{"field":"s"}}},
{"data":{"name":"bC"},"transform":[{"filter":"datum.k==1&&datum.s!='ns'"}],"mark":{"type":"text","fontSize":10,"dy":2,"baseline":"alphabetic","color":"black"},"encoding":{"x":{"field":"m","type":"nominal","bandPosition":1,"title":null},"y":{"field":"y","type":"quantitative"},"text":{"field":"s"}}},
{"data":{"name":"bC"},"transform":[{"filter":"datum.k==0&&datum.s=='ns'"}],"mark":{"type":"text","fontSize":11,"fontStyle":"italic","dy":-2,"baseline":"alphabetic","color":"black"},"encoding":{"x":{"field":"m","type":"nominal","bandPosition":0.5,"title":null},"y":{"field":"y","type":"quantitative"},"text":{"field":"s"}}},
{"data":{"name":"bC"},"transform":[{"filter":"datum.k==1&&datum.s=='ns'"}],"mark":{"type":"text","fontSize":11,"fontStyle":"italic","dy":-2,"baseline":"alphabetic","color":"black"},"encoding":{"x":{"field":"m","type":"nominal","bandPosition":1,"title":null},"y":{"field":"y","type":"quantitative"},"text":{"field":"s"}}}
]},
{"width":270,"height":162,"title":{"text":"D","offset":27},"layer":[
{"data":{"name":"pD"},"transform":[{"window":[{"op":"row_number","as":"r"}],"groupby":["g"]},{"window":[{"op":"cume_dist","as":"j"}],"groupby":["g"],"sort":[{"field":"r"}]}],"mark":{"type":"point","filled":false,"color":"black","strokeWidth":1,"size":60,"opacity":1},"encoding":{"x":{"field":"g","type":"nominal","bandPosition":0,"scale":{"domain":["G","C","I"],"paddingInner":0,"paddingOuter":0},"axis":{"title":null,"offset":26,"labelFontSize":13,"labelExpr":"datum.value=='G'?'Gerbils':datum.value=='C'?'CB.17 SCID':'IL-4R⁻/⁻IL-5⁻/⁻'"}},"xOffset":{"field":"j","type":"quantitative","scale":{"domain":[0,1],"range":[16,76]}},"y":{"field":"v","type":"quantitative","scale":{"type":"log","domain":[100,1000000],"nice":false},"axis":{"offset":18,"tickCount":60,"values":[100,200,300,400,500,600,700,800,900,1000,2000,3000,4000,5000,6000,7000,8000,9000,10000,20000,30000,40000,50000,60000,70000,80000,90000,100000,200000,300000,400000,500000,600000,700000,800000,900000,1000000],"tickSize":{"condition":{"test":"indexof([100,1000,10000,100000,1000000],datum.value)>=0","value":6},"value":3},"labelExpr":"datum.value==100?'10²':datum.value==1000?'10³':datum.value==10000?'10⁴':datum.value==100000?'10⁵':datum.value==1000000?'10⁶':''","title":["Yield of B. malayi mf","(% of L3 inoculate)"]}},"shape":{"field":"g","type":"nominal","scale":{"domain":["G","C","I"],"range":["circle","square","triangle-up"]},"legend":null}}},
{"data":{"name":"mD"},"mark":{"type":"rule","color":"#ee1c25","strokeWidth":2},"encoding":{"x":{"field":"g","type":"nominal","title":null},"y":{"field":"lo","type":"quantitative"},"y2":{"field":"hi"}}},
{"data":{"name":"mD"},"mark":{"type":"tick","color":"#ee1c25","orient":"horizontal","size":56,"thickness":2},"encoding":{"x":{"field":"g","type":"nominal","title":null},"y":{"field":"med","type":"quantitative"}}},
{"data":{"name":"mD"},"mark":{"type":"tick","color":"#ee1c25","orient":"horizontal","size":27,"thickness":2},"encoding":{"x":{"field":"g","type":"nominal","title":null},"y":{"field":"lo","type":"quantitative"}}},
{"data":{"name":"mD"},"mark":{"type":"tick","color":"#ee1c25","orient":"horizontal","size":27,"thickness":2},"encoding":{"x":{"field":"g","type":"nominal","title":null},"y":{"field":"hi","type":"quantitative"}}},
{"data":{"name":"bD"},"mark":{"type":"rule","color":"#222","strokeWidth":1},"encoding":{"x":{"field":"a","type":"nominal","bandPosition":0.5,"title":null},"x2":{"field":"b","bandPosition":0.5},"y":{"field":"y","type":"quantitative"}}},
{"data":{"name":"bD"},"transform":[{"filter":"datum.k==0&&datum.s!='ns'"}],"mark":{"type":"text","fontSize":10,"dy":2,"baseline":"alphabetic","color":"black"},"encoding":{"x":{"field":"m","type":"nominal","bandPosition":0.5,"title":null},"y":{"field":"y","type":"quantitative"},"text":{"field":"s"}}},
{"data":{"name":"bD"},"transform":[{"filter":"datum.k==1&&datum.s!='ns'"}],"mark":{"type":"text","fontSize":10,"dy":2,"baseline":"alphabetic","color":"black"},"encoding":{"x":{"field":"m","type":"nominal","bandPosition":1,"title":null},"y":{"field":"y","type":"quantitative"},"text":{"field":"s"}}},
{"data":{"name":"bD"},"transform":[{"filter":"datum.k==0&&datum.s=='ns'"}],"mark":{"type":"text","fontSize":11,"fontStyle":"italic","dy":-2,"baseline":"alphabetic","color":"black"},"encoding":{"x":{"field":"m","type":"nominal","bandPosition":0.5,"title":null},"y":{"field":"y","type":"quantitative"},"text":{"field":"s"}}},
{"data":{"name":"bD"},"transform":[{"filter":"datum.k==1&&datum.s=='ns'"}],"mark":{"type":"text","fontSize":11,"fontStyle":"italic","dy":-2,"baseline":"alphabetic","color":"black"},"encoding":{"x":{"field":"m","type":"nominal","bandPosition":1,"title":null},"y":{"field":"y","type":"quantitative"},"text":{"field":"s"}}}
]}
]},
{"spacing":0,"resolve":{"scale":{"shape":"independent","xOffset":"independent"}},"vconcat":[
{"width":269,"height":165,"title":{"text":"E","offset":-15},"layer":[
{"data":{"name":"pE"},"transform":[{"window":[{"op":"row_number","as":"r"}],"groupby":["g"]},{"window":[{"op":"cume_dist","as":"j"}],"groupby":["g"],"sort":[{"field":"r"}]}],"mark":{"type":"point","filled":false,"color":"black","strokeWidth":1,"size":60,"opacity":1},"encoding":{"x":{"field":"g","type":"nominal","bandPosition":0,"scale":{"domain":["G<","G>","s1","C<","C>","s2","I<","I>"],"paddingInner":0,"paddingOuter":0},"axis":{"title":null,"domain":false,"offset":26.7,"values":["G<","G>","C<","C>","I<","I>"],"labelExpr":"slice(datum.value,1)+'25'"}},"xOffset":{"field":"j","type":"quantitative","scale":{"domain":[0,1],"range":[5.5,28]}},"y":{"field":"v","type":"quantitative","scale":{"domain":[0,60],"nice":false},"axis":{"offset":18,"values":[0,20,40,60],"title":["Yield of B. malayi total","(% of L3 inoculate)"]}},"shape":{"field":"g","type":"nominal","scale":{"domain":["G<","G>","C<","C>","I<","I>"],"range":["circle","square","circle","square","circle","square"]},"legend":null}}},
{"data":{"name":"seg"},"mark":{"type":"rule","color":"black","strokeWidth":2},"encoding":{"x":{"field":"a","type":"nominal","bandPosition":0,"title":null},"x2":{"field":"b","bandPosition":1},"y":{"datum":-9.7}}},
{"data":{"name":"seg"},"mark":{"type":"text","fontSize":13,"baseline":"middle","color":"black"},"encoding":{"x":{"field":"b","type":"nominal","bandPosition":0,"title":null},"y":{"datum":-29.1},"text":{"field":"h"}}},
{"data":{"name":"mE"},"mark":{"type":"rule","color":"#ee1c25","strokeWidth":2},"encoding":{"x":{"field":"g","type":"nominal","title":null},"y":{"field":"lo","type":"quantitative"},"y2":{"field":"hi"}}},
{"data":{"name":"mE"},"mark":{"type":"tick","color":"#ee1c25","orient":"horizontal","size":24,"thickness":2},"encoding":{"x":{"field":"g","type":"nominal","title":null},"y":{"field":"med","type":"quantitative"}}},
{"data":{"name":"mE"},"mark":{"type":"tick","color":"#ee1c25","orient":"horizontal","size":17,"thickness":2},"encoding":{"x":{"field":"g","type":"nominal","title":null},"y":{"field":"lo","type":"quantitative"}}},
{"data":{"name":"mE"},"mark":{"type":"tick","color":"#ee1c25","orient":"horizontal","size":17,"thickness":2},"encoding":{"x":{"field":"g","type":"nominal","title":null},"y":{"field":"hi","type":"quantitative"}}},
{"data":{"name":"bE"},"mark":{"type":"rule","color":"#222","strokeWidth":1},"encoding":{"x":{"field":"a","type":"nominal","bandPosition":0.5,"title":null},"x2":{"field":"b","bandPosition":0.5},"y":{"field":"y","type":"quantitative"}}},
{"data":{"name":"bE"},"transform":[{"filter":"datum.k==0&&datum.s!='ns'"}],"mark":{"type":"text","fontSize":10,"dy":2,"baseline":"alphabetic","color":"black"},"encoding":{"x":{"field":"m","type":"nominal","bandPosition":0.5,"title":null},"y":{"field":"y","type":"quantitative"},"text":{"field":"s"}}},
{"data":{"name":"bE"},"transform":[{"filter":"datum.k==1&&datum.s!='ns'"}],"mark":{"type":"text","fontSize":10,"dy":2,"baseline":"alphabetic","color":"black"},"encoding":{"x":{"field":"m","type":"nominal","bandPosition":1,"title":null},"y":{"field":"y","type":"quantitative"},"text":{"field":"s"}}},
{"data":{"name":"bE"},"transform":[{"filter":"datum.k==0&&datum.s=='ns'"}],"mark":{"type":"text","fontSize":11,"fontStyle":"italic","dy":-2,"baseline":"alphabetic","color":"black"},"encoding":{"x":{"field":"m","type":"nominal","bandPosition":0.5,"title":null},"y":{"field":"y","type":"quantitative"},"text":{"field":"s"}}},
{"data":{"name":"bE"},"transform":[{"filter":"datum.k==1&&datum.s=='ns'"}],"mark":{"type":"text","fontSize":11,"fontStyle":"italic","dy":-2,"baseline":"alphabetic","color":"black"},"encoding":{"x":{"field":"m","type":"nominal","bandPosition":1,"title":null},"y":{"field":"y","type":"quantitative"},"text":{"field":"s"}}}
]},
{"width":269,"height":165,"title":{"text":"F","offset":33},"layer":[
{"data":{"name":"pF"},"transform":[{"window":[{"op":"row_number","as":"r"}],"groupby":["g"]},{"window":[{"op":"cume_dist","as":"j"}],"groupby":["g"],"sort":[{"field":"r"}]}],"mark":{"type":"point","filled":false,"color":"black","strokeWidth":1,"size":60,"opacity":1},"encoding":{"x":{"field":"g","type":"nominal","bandPosition":0,"scale":{"domain":["G<","G>","s1","C<","C>","s2","I<","I>"],"paddingInner":0,"paddingOuter":0},"axis":{"title":null,"domain":false,"offset":26.6,"values":["G<","G>","C<","C>","I<","I>"],"labelExpr":"slice(datum.value,1)+'25'"}},"xOffset":{"field":"j","type":"quantitative","scale":{"domain":[0,1],"range":[5.5,28]}},"y":{"field":"v","type":"quantitative","scale":{"domain":[0,60],"nice":false},"axis":{"offset":18,"values":[0,20,40,60],"title":["Yield of B. malayi females","(% of L3 inoculate)"]}},"shape":{"field":"g","type":"nominal","scale":{"domain":["G<","G>","C<","C>","I<","I>"],"range":["circle","square","circle","square","circle","square"]},"legend":null}}},
{"data":{"name":"seg"},"mark":{"type":"rule","color":"black","strokeWidth":2},"encoding":{"x":{"field":"a","type":"nominal","bandPosition":0,"title":null},"x2":{"field":"b","bandPosition":1},"y":{"datum":-9.65}}},
{"data":{"name":"seg"},"mark":{"type":"text","fontSize":13,"baseline":"middle","color":"black"},"encoding":{"x":{"field":"b","type":"nominal","bandPosition":0,"title":null},"y":{"datum":-26.5},"text":{"field":"h"}}},
{"data":{"name":"mF"},"mark":{"type":"rule","color":"#ee1c25","strokeWidth":2},"encoding":{"x":{"field":"g","type":"nominal","title":null},"y":{"field":"lo","type":"quantitative"},"y2":{"field":"hi"}}},
{"data":{"name":"mF"},"mark":{"type":"tick","color":"#ee1c25","orient":"horizontal","size":24,"thickness":2},"encoding":{"x":{"field":"g","type":"nominal","title":null},"y":{"field":"med","type":"quantitative"}}},
{"data":{"name":"mF"},"mark":{"type":"tick","color":"#ee1c25","orient":"horizontal","size":17,"thickness":2},"encoding":{"x":{"field":"g","type":"nominal","title":null},"y":{"field":"lo","type":"quantitative"}}},
{"data":{"name":"mF"},"mark":{"type":"tick","color":"#ee1c25","orient":"horizontal","size":17,"thickness":2},"encoding":{"x":{"field":"g","type":"nominal","title":null},"y":{"field":"hi","type":"quantitative"}}},
{"data":{"name":"bF"},"mark":{"type":"rule","color":"#222","strokeWidth":1},"encoding":{"x":{"field":"a","type":"nominal","bandPosition":0.5,"title":null},"x2":{"field":"b","bandPosition":0.5},"y":{"field":"y","type":"quantitative"}}},
{"data":{"name":"bF"},"transform":[{"filter":"datum.k==0&&datum.s!='ns'"}],"mark":{"type":"text","fontSize":10,"dy":2,"baseline":"alphabetic","color":"black"},"encoding":{"x":{"field":"m","type":"nominal","bandPosition":0.5,"title":null},"y":{"field":"y","type":"quantitative"},"text":{"field":"s"}}},
{"data":{"name":"bF"},"transform":[{"filter":"datum.k==1&&datum.s!='ns'"}],"mark":{"type":"text","fontSize":10,"dy":2,"baseline":"alphabetic","color":"black"},"encoding":{"x":{"field":"m","type":"nominal","bandPosition":1,"title":null},"y":{"field":"y","type":"quantitative"},"text":{"field":"s"}}},
{"data":{"name":"bF"},"transform":[{"filter":"datum.k==0&&datum.s=='ns'"}],"mark":{"type":"text","fontSize":11,"fontStyle":"italic","dy":-2,"baseline":"alphabetic","color":"black"},"encoding":{"x":{"field":"m","type":"nominal","bandPosition":0.5,"title":null},"y":{"field":"y","type":"quantitative"},"text":{"field":"s"}}},
{"data":{"name":"bF"},"transform":[{"filter":"datum.k==1&&datum.s=='ns'"}],"mark":{"type":"text","fontSize":11,"fontStyle":"italic","dy":-2,"baseline":"alphabetic","color":"black"},"encoding":{"x":{"field":"m","type":"nominal","bandPosition":1,"title":null},"y":{"field":"y","type":"quantitative"},"text":{"field":"s"}}}
]},
{"width":269,"height":197,"title":{"text":"G","offset":17},"layer":[
{"data":{"name":"pG"},"transform":[{"window":[{"op":"row_number","as":"r"}],"groupby":["g"]},{"window":[{"op":"cume_dist","as":"j"}],"groupby":["g"],"sort":[{"field":"r"}]}],"mark":{"type":"point","filled":false,"color":"black","strokeWidth":1,"size":60,"opacity":1},"encoding":{"x":{"field":"g","type":"nominal","bandPosition":0,"scale":{"domain":["G<","G>","s1","C<","C>","s2","I<","I>"],"paddingInner":0,"paddingOuter":0},"axis":{"title":null,"domain":false,"offset":19,"values":["G<","G>","C<","C>","I<","I>"],"labelExpr":"slice(datum.value,1)+'25'"}},"xOffset":{"field":"j","type":"quantitative","scale":{"domain":[0,1],"range":[5.5,28]}},"y":{"field":"v","type":"quantitative","scale":{"domain":[0,20,20.01,60],"range":[197,52,36.5,0],"nice":false,"zero":false},"axis":{"offset":18,"tickCount":30,"values":[0,5,10,15,20,20.01,40,60],"format":".0f","title":["Yield of B. malayi males","(% of L3 inoculate)"]}},"shape":{"field":"g","type":"nominal","scale":{"domain":["G<","G>","C<","C>","I<","I>"],"range":["circle","square","circle","square","circle","square"]},"legend":null}}},
{"data":{"values":[{}]},"mark":{"type":"rule","color":"white","strokeWidth":6},"encoding":{"x":{"datum":"G<","type":"nominal","bandPosition":-0.5353},"y":{"datum":20.001,"type":"quantitative"},"y2":{"datum":20.009}}},
{"data":{"name":"seg"},"mark":{"type":"rule","color":"black","strokeWidth":2},"encoding":{"x":{"field":"a","type":"nominal","bandPosition":0,"title":null},"x2":{"field":"b","bandPosition":1},"y":{"datum":-2.62}}},
{"data":{"name":"seg"},"mark":{"type":"text","fontSize":13,"baseline":"middle","color":"black"},"encoding":{"x":{"field":"b","type":"nominal","bandPosition":0,"title":null},"y":{"datum":-8.69},"text":{"field":"h"}}},
{"data":{"name":"mG"},"mark":{"type":"rule","color":"#ee1c25","strokeWidth":2},"encoding":{"x":{"field":"g","type":"nominal","title":null},"y":{"field":"lo","type":"quantitative"},"y2":{"field":"hi"}}},
{"data":{"name":"mG"},"mark":{"type":"tick","color":"#ee1c25","orient":"horizontal","size":24,"thickness":2},"encoding":{"x":{"field":"g","type":"nominal","title":null},"y":{"field":"med","type":"quantitative"}}},
{"data":{"name":"mG"},"mark":{"type":"tick","color":"#ee1c25","orient":"horizontal","size":17,"thickness":2},"encoding":{"x":{"field":"g","type":"nominal","title":null},"y":{"field":"lo","type":"quantitative"}}},
{"data":{"name":"mG"},"mark":{"type":"tick","color":"#ee1c25","orient":"horizontal","size":17,"thickness":2},"encoding":{"x":{"field":"g","type":"nominal","title":null},"y":{"field":"hi","type":"quantitative"}}},
{"data":{"name":"bG"},"mark":{"type":"rule","color":"#222","strokeWidth":1},"encoding":{"x":{"field":"a","type":"nominal","bandPosition":0.5,"title":null},"x2":{"field":"b","bandPosition":0.5},"y":{"field":"y","type":"quantitative"}}},
{"data":{"name":"bG"},"transform":[{"filter":"datum.k==0&&datum.s!='ns'"}],"mark":{"type":"text","fontSize":10,"dy":2,"baseline":"alphabetic","color":"black"},"encoding":{"x":{"field":"m","type":"nominal","bandPosition":0.5,"title":null},"y":{"field":"y","type":"quantitative"},"text":{"field":"s"}}},
{"data":{"name":"bG"},"transform":[{"filter":"datum.k==1&&datum.s!='ns'"}],"mark":{"type":"text","fontSize":10,"dy":2,"baseline":"alphabetic","color":"black"},"encoding":{"x":{"field":"m","type":"nominal","bandPosition":1,"title":null},"y":{"field":"y","type":"quantitative"},"text":{"field":"s"}}},
{"data":{"name":"bG"},"transform":[{"filter":"datum.k==0&&datum.s=='ns'"}],"mark":{"type":"text","fontSize":11,"fontStyle":"italic","dy":-2,"baseline":"alphabetic","color":"black"},"encoding":{"x":{"field":"m","type":"nominal","bandPosition":0.5,"title":null},"y":{"field":"y","type":"quantitative"},"text":{"field":"s"}}},
{"data":{"name":"bG"},"transform":[{"filter":"datum.k==1&&datum.s=='ns'"}],"mark":{"type":"text","fontSize":11,"fontStyle":"italic","dy":-2,"baseline":"alphabetic","color":"black"},"encoding":{"x":{"field":"m","type":"nominal","bandPosition":1,"title":null},"y":{"field":"y","type":"quantitative"},"text":{"field":"s"}}}
]},
{"width":268,"height":171,"title":{"text":"H","offset":20},"layer":[
{"data":{"name":"pH"},"transform":[{"window":[{"op":"row_number","as":"r"}],"groupby":["g"]},{"window":[{"op":"cume_dist","as":"j"}],"groupby":["g"],"sort":[{"field":"r"}]}],"mark":{"type":"point","filled":false,"color":"black","strokeWidth":1,"size":60,"opacity":1},"encoding":{"x":{"field":"g","type":"nominal","bandPosition":0,"scale":{"domain":["G<","G>","s1","C<","C>","s2","I<","I>"],"paddingInner":0,"paddingOuter":0},"axis":{"title":null,"domain":false,"offset":19.3,"values":["G<","G>","C<","C>","I<","I>"],"labelExpr":"slice(datum.value,1)+'25'"}},"xOffset":{"field":"j","type":"quantitative","scale":{"domain":[0,1],"range":[5,28.5]}},"y":{"field":"v","type":"quantitative","scale":{"type":"log","domain":[100,1000000],"nice":false},"axis":{"offset":20,"tickCount":60,"values":[100,200,300,400,500,600,700,800,900,1000,2000,3000,4000,5000,6000,7000,8000,9000,10000,20000,30000,40000,50000,60000,70000,80000,90000,100000,200000,300000,400000,500000,600000,700000,800000,900000,1000000],"tickSize":{"condition":{"test":"indexof([100,1000,10000,100000,1000000],datum.value)>=0","value":6},"value":3},"labelExpr":"datum.value==100?'10²':datum.value==1000?'10³':datum.value==10000?'10⁴':datum.value==100000?'10⁵':datum.value==1000000?'10⁶':''","title":["Yield of B. malayi mf","(% of L3 inoculate)"]}},"shape":{"field":"g","type":"nominal","scale":{"domain":["G<","G>","C<","C>","I<","I>"],"range":["circle","square","circle","square","circle","square"]},"legend":null}}},
{"data":{"name":"seg"},"mark":{"type":"rule","color":"black","strokeWidth":2},"encoding":{"x":{"field":"a","type":"nominal","bandPosition":0,"title":null},"x2":{"field":"b","bandPosition":1},"y":{"datum":35.4}}},
{"data":{"name":"seg"},"mark":{"type":"text","fontSize":13,"baseline":"middle","color":"black"},"encoding":{"x":{"field":"b","type":"nominal","bandPosition":0,"title":null},"y":{"datum":3.2},"text":{"field":"h"}}},
{"data":{"name":"mH"},"mark":{"type":"rule","color":"#ee1c25","strokeWidth":2},"encoding":{"x":{"field":"g","type":"nominal","title":null},"y":{"field":"lo","type":"quantitative"},"y2":{"field":"hi"}}},
{"data":{"name":"mH"},"mark":{"type":"tick","color":"#ee1c25","orient":"horizontal","size":23,"thickness":2},"encoding":{"x":{"field":"g","type":"nominal","title":null},"y":{"field":"med","type":"quantitative"}}},
{"data":{"name":"mH"},"mark":{"type":"tick","color":"#ee1c25","orient":"horizontal","size":15,"thickness":2},"encoding":{"x":{"field":"g","type":"nominal","title":null},"y":{"field":"lo","type":"quantitative"}}},
{"data":{"name":"mH"},"mark":{"type":"tick","color":"#ee1c25","orient":"horizontal","size":15,"thickness":2},"encoding":{"x":{"field":"g","type":"nominal","title":null},"y":{"field":"hi","type":"quantitative"}}},
{"data":{"name":"bH"},"mark":{"type":"rule","color":"#222","strokeWidth":1},"encoding":{"x":{"field":"a","type":"nominal","bandPosition":0.5,"title":null},"x2":{"field":"b","bandPosition":0.5},"y":{"field":"y","type":"quantitative"}}},
{"data":{"name":"bH"},"transform":[{"filter":"datum.k==0&&datum.s!='ns'"}],"mark":{"type":"text","fontSize":10,"dy":2,"baseline":"alphabetic","color":"black"},"encoding":{"x":{"field":"m","type":"nominal","bandPosition":0.5,"title":null},"y":{"field":"y","type":"quantitative"},"text":{"field":"s"}}},
{"data":{"name":"bH"},"transform":[{"filter":"datum.k==1&&datum.s!='ns'"}],"mark":{"type":"text","fontSize":10,"dy":2,"baseline":"alphabetic","color":"black"},"encoding":{"x":{"field":"m","type":"nominal","bandPosition":1,"title":null},"y":{"field":"y","type":"quantitative"},"text":{"field":"s"}}},
{"data":{"name":"bH"},"transform":[{"filter":"datum.k==0&&datum.s=='ns'"}],"mark":{"type":"text","fontSize":11,"fontStyle":"italic","dy":-2,"baseline":"alphabetic","color":"black"},"encoding":{"x":{"field":"m","type":"nominal","bandPosition":0.5,"title":null},"y":{"field":"y","type":"quantitative"},"text":{"field":"s"}}},
{"data":{"name":"bH"},"transform":[{"filter":"datum.k==1&&datum.s=='ns'"}],"mark":{"type":"text","fontSize":11,"fontStyle":"italic","dy":-2,"baseline":"alphabetic","color":"black"},"encoding":{"x":{"field":"m","type":"nominal","bandPosition":1,"title":null},"y":{"field":"y","type":"quantitative"},"text":{"field":"s"}}}
]}
]}
],
"spacing":24,
"config":{
"font":"Liberation Sans",
"view":{"stroke":null},
"axis":{"domainColor":"black","domainWidth":2,"tickColor":"black","tickWidth":2,"labelColor":"black","titleColor":"black","grid":false,"titleFontWeight":"normal","labelOverlap":false,"labelFont":"Liberation Sans","titleFont":"Liberation Sans"},
"axisY":{"offset":20,"tickSize":6,"labelFontSize":16,"labelPadding":2,"titleFontSize":16,"titlePadding":3,"titleLineHeight":18},
"axisX":{"tickSize":7,"labelAngle":-45,"labelAlign":"right","labelBaseline":"middle","labelFontSize":14,"labelPadding":3},
"title":{"fontSize":20,"fontWeight":"bold","anchor":"start","frame":"bounds","color":"black","font":"Liberation Sans"},
"text":{"font":"Liberation Sans"}
}
}
